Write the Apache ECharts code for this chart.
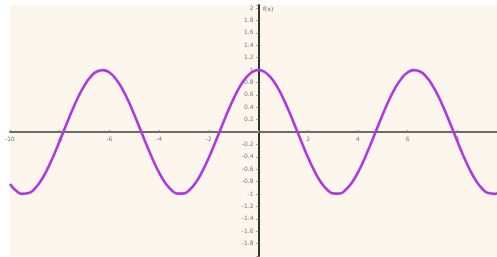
<!DOCTYPE html>
<html>
<head>
<meta charset="utf-8">
<script src="https://cdn.jsdelivr.net/npm/echarts@6/dist/echarts.min.js"></script>
<style>
  html, body { margin: 0; padding: 0; background: #fff; }
  #chart { width: 497px; height: 257px; }
</style>
</head>
<body>
<div id="chart"></div>
<script>
  // x 取值（步长 0.25），y 为从图上读出的曲线值
  var xs = [];
  for (var i = 0; i < 80; i++) xs.push(-10 + i * 0.25);
  var ys = [
    -0.839, -0.948, -0.997, -0.985, -0.911, -0.781, -0.602, -0.386,
    -0.146, 0.104, 0.347, 0.569, 0.754, 0.893, 0.977, 0.999,
    0.960, 0.861, 0.709, 0.512, 0.284, 0.038, -0.211, -0.446,
    -0.654, -0.821, -0.936, -0.994, -0.990, -0.924, -0.801, -0.628,
    -0.416, -0.178, 0.071, 0.315, 0.540, 0.732, 0.878, 0.969,
    1.000, 0.969, 0.878, 0.732, 0.540, 0.315, 0.071, -0.178,
    -0.416, -0.628, -0.801, -0.924, -0.990, -0.994, -0.936, -0.821,
    -0.654, -0.446, -0.211, 0.038, 0.284, 0.512, 0.709, 0.861,
    0.960, 0.999, 0.977, 0.893, 0.754, 0.569, 0.347, 0.104,
    -0.146, -0.386, -0.602, -0.781, -0.911, -0.985, -0.997, -0.948
  ];
  var xTicks = [-10, -8, -6, -4, -2, 2, 4, 6, 8];
  var yTicks = [2, 1.8, 1.6, 1.4, 1.2, 1, 0.8, 0.6, 0.4, 0.2, -0.2, -0.4, -0.6, -0.8, -1, -1.2, -1.4, -1.6, -1.8];

  var pts = [];
  for (var k = 0; k < xs.length; k++) pts.push([xs[k], ys[k]]);

  function fmt(list) {
    return function (v) {
      var r = Math.round(v * 10) / 10;
      return list.indexOf(r) >= 0 ? String(r) : '';
    };
  }

  // 坐标轴移到原点处（标签跟着走）
  var W = 497, H = 257, L = 10, T = 5, B = 1;
  var xMin = -10, xMax = 9.6, yMin = -2, yMax = 2.05;
  var yOff = -((W - L) * (0 - xMin) / (xMax - xMin));
  var xOff = -((H - T - B) * (0 - yMin) / (yMax - yMin));

  var chartObj = echarts.init(document.getElementById('chart'));
  chartObj.setOption({
    animation: false,
    grid: {
      left: L, right: 0, top: T, bottom: B,
      show: true,
      backgroundColor: '#fdf6ed',
      borderWidth: 0
    },
    graphic: [{
      type: 'text',
      left: 263, top: 6,
      style: { text: 'f(x)', fontSize: 6, fill: '#666', fontFamily: 'DejaVu Sans' }
    }],
    xAxis: {
      type: 'value',
      min: xMin, max: xMax, interval: 2,
      position: 'bottom',
      offset: xOff,
      splitLine: { show: false },
      axisLine: { onZero: false, lineStyle: { color: '#6a6a66', width: 2 } },
      axisTick: { show: true, inside: true, length: 2, lineStyle: { color: '#888' } },
      axisLabel: {
        interval: 0, hideOverlap: false,
        fontSize: 6, color: '#777', margin: 4, fontFamily: 'DejaVu Sans',
        showMinLabel: true, showMaxLabel: false,
        formatter: fmt(xTicks)
      }
    },
    yAxis: {
      type: 'value',
      min: yMin, max: yMax, interval: 0.2,
      position: 'left',
      offset: yOff,
      splitLine: { show: false },
      axisLine: { onZero: false, lineStyle: { color: '#333', width: 2 } },
      axisTick: { show: true, length: 2, lineStyle: { color: '#888' } },
      axisLabel: {
        interval: 0, hideOverlap: false,
        fontSize: 6, color: '#777', margin: 5, fontFamily: 'DejaVu Sans',
        showMaxLabel: true,
        formatter: fmt(yTicks)
      }
    },
    series: [{
      type: 'line',
      data: pts,
      smooth: true,
      showSymbol: false,
      lineStyle: { color: '#b038e0', width: 2.6 }
    }]
  });
</script>
</body>
</html>
